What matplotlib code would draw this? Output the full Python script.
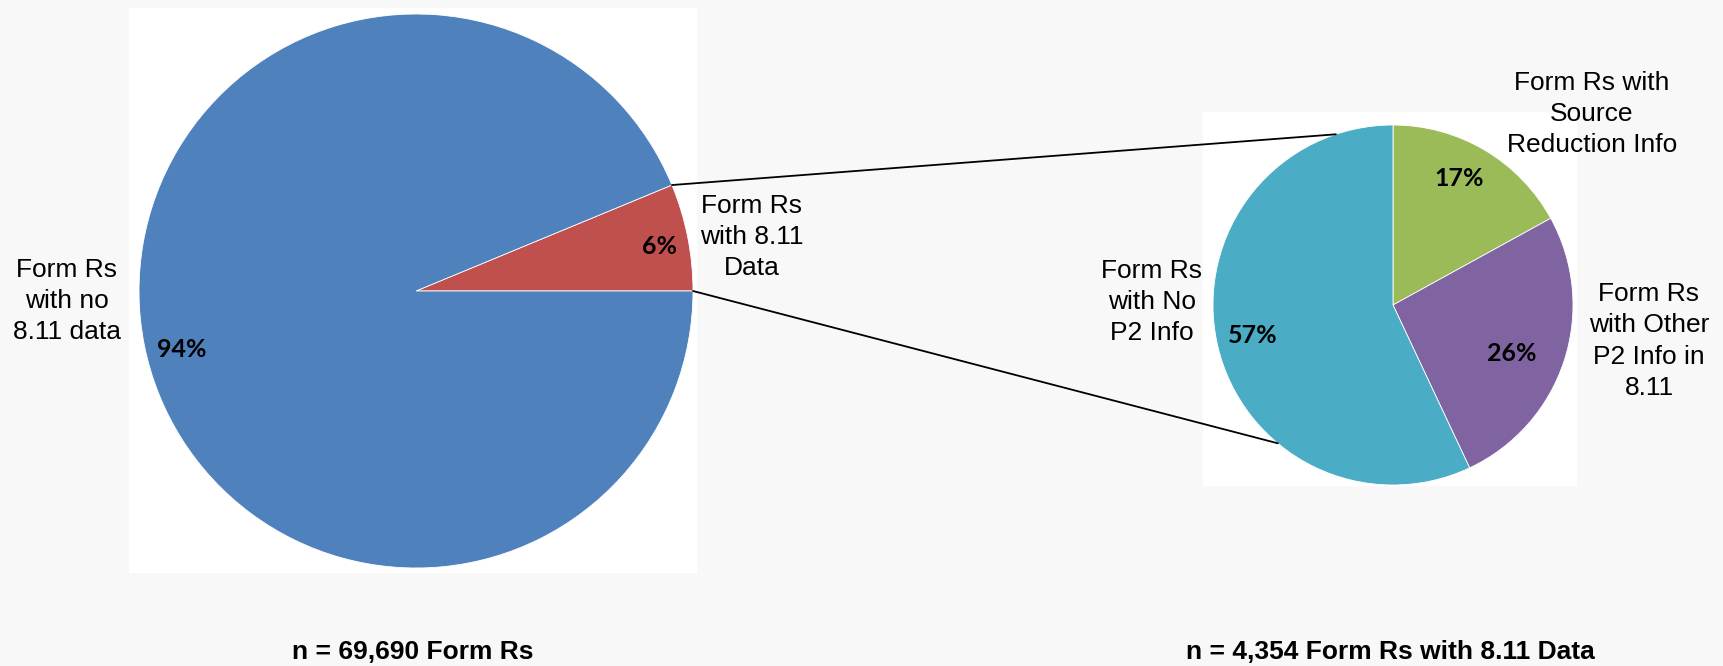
import numpy as np
import matplotlib
matplotlib.use('Agg')
import matplotlib.pyplot as plt
from matplotlib.patches import Rectangle, ConnectionPatch

# left pie: all Form Rs
left_labels = ['Form Rs\nwith 8.11\nData', 'Form Rs\nwith no\n8.11 data']
left_counts = [4354, 65336]
left_colors = ['#C0504D', '#4F81BD']

# right pie: Form Rs with 8.11 data
right_labels = ['Form Rs with\nSource\nReduction Info', 'Form Rs\nwith Other\nP2 Info in\n8.11',
                'Form Rs\nwith No\nP2 Info']
right_pct = [17, 26, 57]
right_colors = ['#9BBB59', '#8064A2', '#4BACC6']

W, H = 1724, 666
fig = plt.figure(figsize=(W / 100, H / 100), dpi=100, facecolor='#f8f8f8')


def box(x0, y0, x1, y1):
    # pixel box (top-left origin) -> figure fraction rect
    return [x0 / W, 1 - y1 / H, (x1 - x0) / W, (y1 - y0) / H]


def px(x, y):
    return x / W, 1 - y / H


# white panels behind the pies
for x0, y0, x1, y1 in [(129, 8, 697, 573), (1203, 112, 1577, 486)]:
    fig.patches.append(Rectangle((x0 / W, 1 - y1 / H), (x1 - x0) / W, (y1 - y0) / H,
                                 transform=fig.transFigure, facecolor='white',
                                 edgecolor='none', zorder=-5))

ax1 = fig.add_axes(box(139, 14, 693, 568))
ax2 = fig.add_axes(box(1213, 125, 1573, 485))
for ax in (ax1, ax2):
    ax.set_facecolor('none')
    ax.set_zorder(2)

ax1.pie(left_counts, colors=left_colors, startangle=0, counterclock=True,
        wedgeprops=dict(linewidth=0.6, edgecolor='white'))
ax2.pie(right_pct, colors=right_colors, startangle=90, counterclock=False,
        wedgeprops=dict(linewidth=0.6, edgecolor='white'))
for ax in (ax1, ax2):
    ax.set_xlim(-1, 1)
    ax.set_ylim(-1, 1)
    ax.set_aspect('equal')
    ax.axis('off')

pct_font = dict(family=['Lato', 'DejaVu Sans'], fontweight='bold', fontstyle='normal',
                fontsize=18, ha='center', va='center', color='black')
total = sum(left_counts)
left_txt = ['%.0f%%' % (100 * c / total) for c in left_counts]
ax1.text(0.88, 0.16, left_txt[0], **pct_font)
ax1.text(-0.845, -0.21, left_txt[1], **pct_font)
ax2.text(0.37, 0.70, '%d%%' % right_pct[0], **pct_font)
ax2.text(0.66, -0.27, '%d%%' % right_pct[1], **pct_font)
ax2.text(-0.78, -0.17, '%d%%' % right_pct[2], **pct_font)

lab_font = dict(family=['Liberation Sans', 'DejaVu Sans'], fontsize=19,
                ha='center', va='center', color='black', linespacing=1.38)
fig.text(*px(752, 237), left_labels[0], **lab_font)
fig.text(*px(67, 301), left_labels[1], **lab_font)
fig.text(*px(1592, 114), right_labels[0], **lab_font)
fig.text(*px(1649, 341), right_labels[1], **lab_font)
fig.text(*px(1152, 302), right_labels[2], **lab_font)

# connector lines between the 8.11 wedge and the right pie
a_top = 2 * np.pi * left_counts[0] / total
for a1, a2 in [(a_top, np.deg2rad(108.5)), (0.0, np.deg2rad(230.2))]:
    con = ConnectionPatch(xyA=(np.cos(a1), np.sin(a1)), coordsA=ax1.transData,
                          xyB=(np.cos(a2), np.sin(a2)), coordsB=ax2.transData,
                          color='black', linewidth=1.3, zorder=3)
    fig.add_artist(con)

bold = dict(family=['Liberation Sans', 'DejaVu Sans'], fontsize=19, fontweight='bold',
            ha='center', va='center', color='black')
fig.text(*px(413, 652), 'n = 69,690 Form Rs', **bold)
fig.text(*px(1390, 652), 'n = 4,354 Form Rs with 8.11 Data', **bold)

fig.savefig('out.png', dpi=100, facecolor=fig.get_facecolor())
